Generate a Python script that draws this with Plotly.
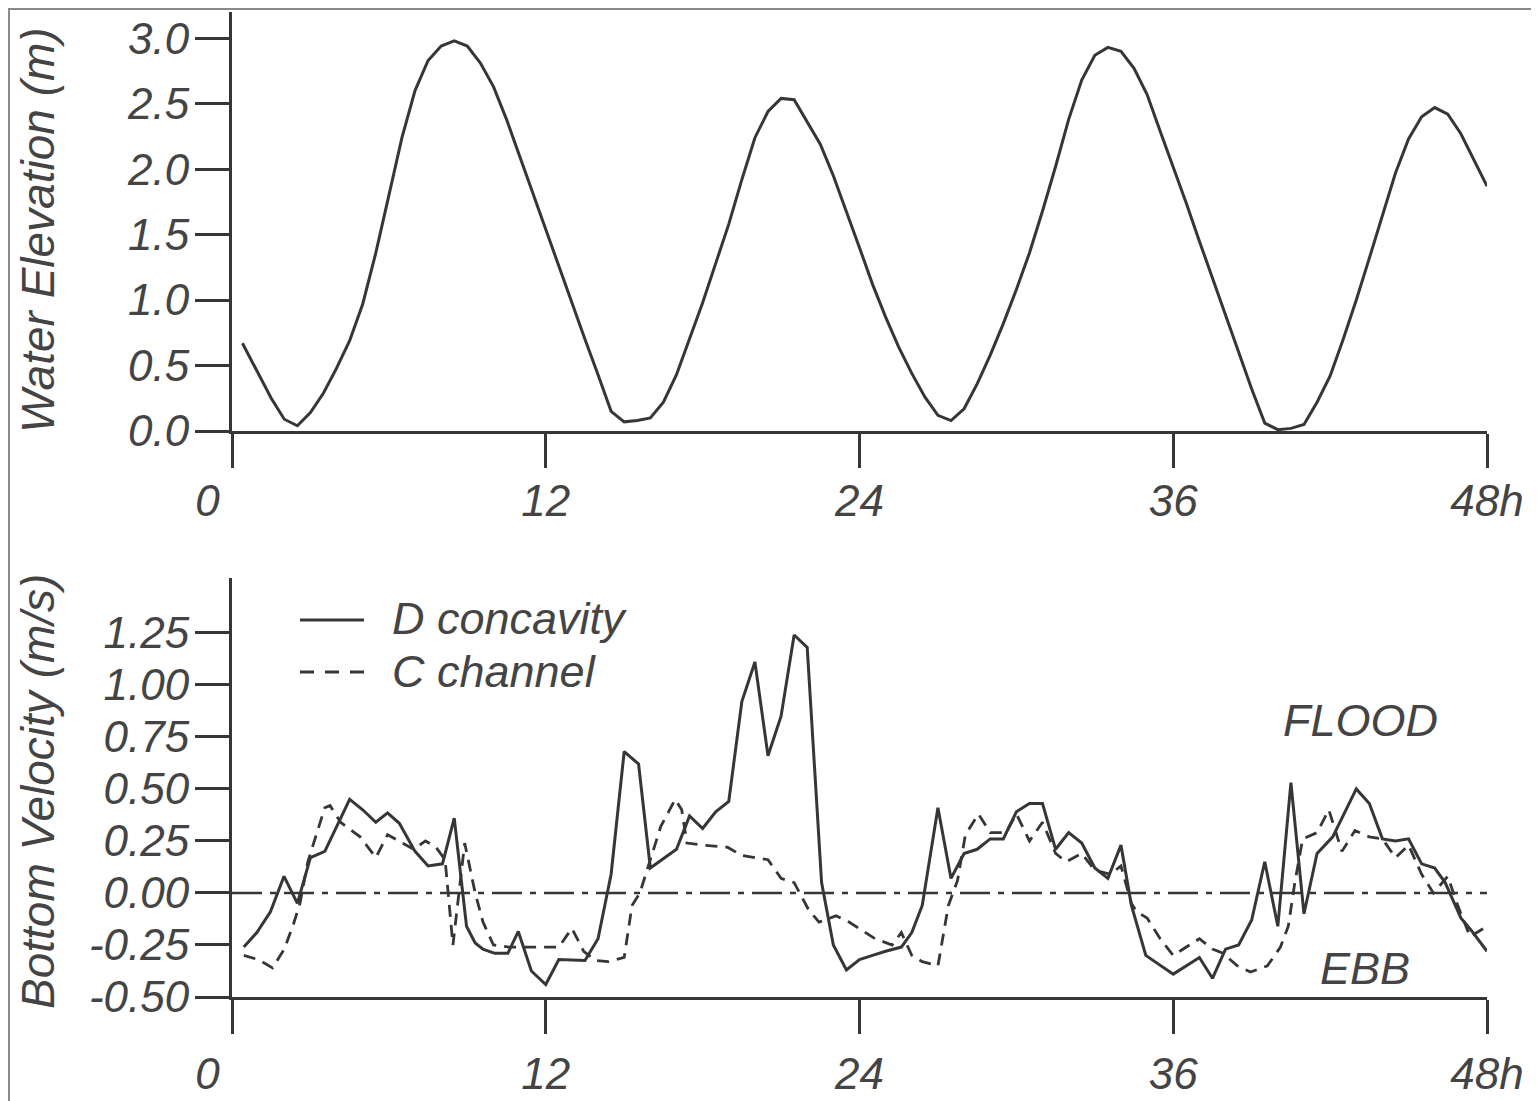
import plotly.graph_objects as go

# ---------------- data ----------------
elev_time = [0.4, 1.0, 1.5, 2.0, 2.5, 3.0, 3.5, 4.0, 4.5, 5.0, 5.5, 6.0, 6.5, 7.0, 7.5, 8.0, 8.5, 9.0, 9.5, 10.0,
             10.5, 11.0, 11.5, 12.0, 12.5, 13.0, 13.5, 14.0, 14.5, 15.0, 15.5, 16.0, 16.5, 17.0, 17.5, 18.0, 18.5,
             19.0, 19.5, 20.0, 20.5, 21.0, 21.5, 22.0, 22.5, 23.0, 23.5, 24.0, 24.5, 25.0, 25.5, 26.0, 26.5, 27.0,
             27.5, 28.0, 28.5, 29.0, 29.5, 30.0, 30.5, 31.0, 31.5, 32.0, 32.5, 33.0, 33.5, 34.0, 34.5, 35.0, 35.5,
             36.0, 36.5, 37.0, 37.5, 38.0, 38.5, 39.0, 39.5, 40.0, 40.5, 41.0, 41.5, 42.0, 42.5, 43.0, 43.5, 44.0,
             44.5, 45.0, 45.5, 46.0, 46.5, 47.0, 47.5, 48.0]
water_elevation = [0.67, 0.44, 0.25, 0.09, 0.04, 0.14, 0.29, 0.48, 0.69, 0.97, 1.36, 1.80, 2.24, 2.60, 2.83, 2.94,
                   2.98, 2.94, 2.81, 2.63, 2.38, 2.10, 1.82, 1.54, 1.25, 0.97, 0.70, 0.43, 0.15, 0.07, 0.08, 0.10,
                   0.22, 0.43, 0.70, 0.98, 1.28, 1.58, 1.92, 2.24, 2.44, 2.54, 2.53, 2.36, 2.19, 1.95, 1.68, 1.40,
                   1.12, 0.87, 0.64, 0.44, 0.26, 0.12, 0.08, 0.17, 0.36, 0.58, 0.82, 1.08, 1.36, 1.68, 2.02, 2.38,
                   2.68, 2.87, 2.93, 2.90, 2.77, 2.57, 2.29, 2.02, 1.74, 1.45, 1.17, 0.88, 0.60, 0.32, 0.06, 0.01,
                   0.02, 0.05, 0.22, 0.42, 0.70, 1.00, 1.32, 1.65, 1.97, 2.23, 2.40, 2.47, 2.42, 2.27, 2.07, 1.87]

d_time = [0.45, 0.95, 1.47, 1.99, 2.5, 3.0, 3.55, 4.1, 4.5, 5.0, 5.5, 5.95, 6.4, 7.0, 7.5, 8.05, 8.5, 8.97, 9.3,
          9.6, 10.05, 10.55, 10.95, 11.45, 12.0, 12.5, 13.5, 14.0, 14.5, 15.0, 15.55, 16.0, 17.0, 17.5, 18.0, 18.5,
          19.0, 19.5, 20.0, 20.5, 21.0, 21.5, 22.0, 22.55, 23.0, 23.5, 24.0, 24.5, 25.0, 25.6, 26.0, 26.4, 27.0,
          27.5, 28.0, 28.5, 29.0, 29.5, 30.0, 30.5, 31.0, 31.5, 32.0, 32.5, 33.0, 33.5, 34.0, 34.4, 34.95, 36.0,
          37.0, 37.5, 38.0, 38.5, 39.0, 39.5, 40.0, 40.5, 41.0, 41.5, 42.1, 43.0, 43.5, 44.0, 44.5, 45.0, 45.5,
          46.0, 46.4, 47.0, 47.4, 48.0]
d_concavity = [-0.26, -0.19, -0.09, 0.08, -0.05, 0.17, 0.20, 0.34, 0.45, 0.40, 0.34, 0.385, 0.335, 0.20, 0.13,
               0.14, 0.36, -0.16, -0.24, -0.27, -0.29, -0.29, -0.185, -0.375, -0.44, -0.32, -0.325, -0.22, 0.09,
               0.68, 0.62, 0.12, 0.21, 0.37, 0.31, 0.39, 0.44, 0.92, 1.11, 0.66, 0.85, 1.24, 1.18, 0.05, -0.25,
               -0.37, -0.32, -0.30, -0.28, -0.26, -0.19, -0.06, 0.41, 0.07, 0.19, 0.21, 0.26, 0.26, 0.39, 0.43,
               0.43, 0.21, 0.29, 0.24, 0.12, 0.07, 0.23, -0.06, -0.30, -0.39, -0.31, -0.41, -0.27, -0.25, -0.13,
               0.15, -0.16, 0.53, -0.10, 0.19, 0.27, 0.50, 0.43, 0.26, 0.25, 0.26, 0.14, 0.12, 0.05, -0.12, -0.18,
               -0.28]

c_time = [0.45, 1.0, 1.55, 2.0, 2.35, 2.6, 2.9, 3.25, 3.55, 3.75, 4.15, 4.9, 5.5, 5.95, 6.4, 6.95, 7.4, 7.8, 8.15,
          8.45, 8.9, 9.3, 9.6, 10.0, 10.6, 11.3, 12.0, 12.5, 13.0, 13.45, 13.9, 14.4, 15.0, 15.3, 15.6, 15.95, 16.4,
          16.95, 17.2, 17.4, 18.0, 18.95, 19.5, 20.5, 21.0, 21.5, 22.05, 22.45, 23.1, 23.6, 24.6, 25.25, 25.6, 26.0,
          26.4, 27.0, 27.4, 27.75, 28.05, 28.55, 29.0, 29.6, 30.0, 30.5, 31.0, 31.5, 31.9, 32.5, 33.0, 33.6, 34.0,
          34.4, 34.6, 35.0, 35.5, 36.0, 37.0, 37.5, 37.9, 38.45, 38.95, 39.6, 40.1, 40.4, 40.65, 40.95, 41.5, 41.95,
          42.45, 42.95, 43.5, 44.0, 44.5, 45.0, 45.5, 45.95, 46.5, 46.85, 47.35, 48.0]
c_channel = [-0.30, -0.32, -0.36, -0.27, -0.15, -0.05, 0.15, 0.29, 0.41, 0.42, 0.34, 0.27, 0.17, 0.28, 0.25, 0.21,
             0.25, 0.22, 0.16, -0.25, 0.24, 0.0, -0.14, -0.25, -0.26, -0.26, -0.26, -0.26, -0.17, -0.28, -0.325,
             -0.33, -0.31, -0.06, 0.0, 0.14, 0.32, 0.45, 0.40, 0.24, 0.23, 0.22, 0.18, 0.16, 0.07, 0.05, -0.08,
             -0.14, -0.11, -0.14, -0.22, -0.25, -0.19, -0.30, -0.33, -0.35, -0.06, 0.06, 0.28, 0.38, 0.29, 0.29,
             0.38, 0.25, 0.34, 0.19, 0.15, 0.19, 0.11, 0.09, 0.13, -0.05, -0.09, -0.12, -0.22, -0.30, -0.22, -0.27,
             -0.29, -0.35, -0.38, -0.35, -0.26, -0.16, 0.05, 0.26, 0.29, 0.40, 0.20, 0.30, 0.27, 0.26, 0.17, 0.23,
             0.09, 0.0, 0.08, -0.05, -0.21, -0.16]

x_tickvals = [0, 12, 24, 36, 48]
x_ticktext = ["0\u2007\u2007", "12", "24", "36", "48h"]
elev_tickvals = [0.0, 0.5, 1.0, 1.5, 2.0, 2.5, 3.0]
elev_ticktext = ["0.0", "0.5", "1.0", "1.5", "2.0", "2.5", "3.0"]
vel_tickvals = [-0.5, -0.25, 0.0, 0.25, 0.5, 0.75, 1.0, 1.25]
vel_ticktext = ["-0.50", "-0.25", "0.00", "0.25", "0.50", "0.75", "1.00", "1.25"]

# ---------------- style ----------------
# page body has an 8px margin: figure pixel = screen pixel - 8
W, H = 1525, 1093
OFF = 8
INK = "#363636"
TXT = "#444444"
FONT = "Liberation Sans, Arial, sans-serif"
TICKFONT = dict(family=FONT, size=44, color=TXT, style="italic")


def px_x(p):
    return (p - OFF) / W


def px_y(p):
    return 1 - (p - OFF) / H


fig = go.Figure()

fig.add_trace(go.Scatter(x=elev_time, y=water_elevation, mode="lines",
                         line=dict(color=INK, width=3), xaxis="x", yaxis="y",
                         name="Water Elevation", showlegend=False))
fig.add_trace(go.Scatter(x=[0, 48], y=[0, 0], mode="lines",
                         line=dict(color=INK, width=2.5, dash="30px,8px,6px,8px"),
                         xaxis="x2", yaxis="y2", showlegend=False, hoverinfo="skip"))
fig.add_trace(go.Scatter(x=c_time, y=c_channel, mode="lines",
                         line=dict(color=INK, width=2.8, dash="12px,8px"), xaxis="x2", yaxis="y2",
                         name="C channel", showlegend=False))
fig.add_trace(go.Scatter(x=d_time, y=d_concavity, mode="lines",
                         line=dict(color=INK, width=3), xaxis="x2", yaxis="y2",
                         name="D concavity", showlegend=False))

x_dom = [px_x(232), px_x(1487)]
axis_common = dict(ticks="outside", ticklen=34, tickwidth=3, tickcolor=INK,
                   showline=True, linewidth=3, linecolor=INK, showgrid=False,
                   zeroline=False, tickfont=TICKFONT, automargin=False)

fig.update_layout(
    width=W, height=H,
    margin=dict(l=0, r=0, t=0, b=0),
    paper_bgcolor="white", plot_bgcolor="white",
    xaxis=dict(domain=x_dom, range=[0, 48], anchor="y", tickmode="array",
               tickvals=x_tickvals, ticktext=x_ticktext, ticklabelstandoff=-5, **axis_common),
    yaxis=dict(domain=[px_y(431), px_y(12)], range=[0, 3.2], anchor="x", tickmode="array",
               tickvals=elev_tickvals, ticktext=elev_ticktext, ticklabelstandoff=-3, **axis_common),
    xaxis2=dict(domain=x_dom, range=[0, 48], anchor="y2", tickmode="array",
                tickvals=x_tickvals, ticktext=x_ticktext, ticklabelstandoff=2, **axis_common),
    yaxis2=dict(domain=[px_y(997), px_y(578)], range=[-0.5, 1.514], anchor="x2", tickmode="array",
                tickvals=vel_tickvals, ticktext=vel_ticktext, ticklabelstandoff=-3, **axis_common),
)

title_font = dict(family=FONT, size=46, color=TXT, style="italic")
lab_font = dict(family=FONT, size=45, color=TXT, style="italic")
annots = [
    dict(text="Water Elevation (m)", x=px_x(38), y=px_y(230), textangle=-90, font=title_font),
    dict(text="Bottom Velocity (m/s)", x=px_x(38), y=px_y(792), textangle=-90, font=title_font),
    dict(text="D concavity", x=px_x(390), y=px_y(618), xanchor="left", font=lab_font),
    dict(text="C channel", x=px_x(390), y=px_y(671), xanchor="left", font=lab_font),
    dict(text="FLOOD", x=px_x(1360), y=px_y(720), font=lab_font),
    dict(text="EBB", x=px_x(1365), y=px_y(968), font=lab_font),
]
for a in annots:
    a.update(xref="paper", yref="paper", showarrow=False, yanchor="middle",
             xanchor=a.get("xanchor", "center"))
fig.update_layout(annotations=annots)

shapes = [
    # legend samples
    dict(type="line", xref="paper", yref="paper", x0=px_x(300), x1=px_x(364), y0=px_y(620), y1=px_y(620),
         line=dict(color=INK, width=3)),
    dict(type="line", xref="paper", yref="paper", x0=px_x(300), x1=px_x(364), y0=px_y(672), y1=px_y(672),
         line=dict(color=INK, width=2.8, dash="14px,11px")),
    # outer frame
    dict(type="rect", xref="paper", yref="paper", x0=px_x(9), x1=px_x(1532), y0=px_y(1115), y1=px_y(9),
         line=dict(color="#8a8a8a", width=2), fillcolor="rgba(0,0,0,0)"),
]
fig.update_layout(shapes=shapes)

fig.write_html("out.html")
